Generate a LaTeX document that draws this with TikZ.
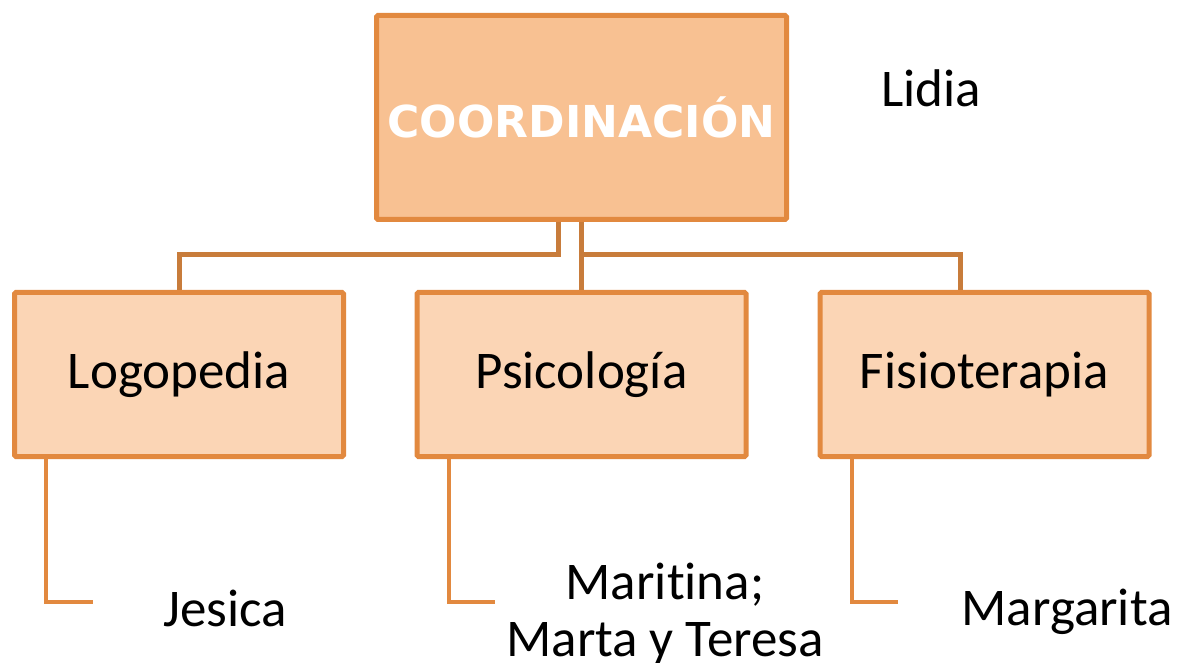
\documentclass[tikz,border=0pt]{standalone}
\usepackage{fontspec}
\setmainfont{Carlito}[Ligatures=NoCommon]
\newfontfamily\titlefont{DejaVu Sans}
\definecolor{topfill}{HTML}{F8C192}
\definecolor{subfill}{HTML}{FBD5B5}
\definecolor{edge}{HTML}{E2893F}
\definecolor{linkdark}{HTML}{C87C3B}
\usetikzlibrary{calc}
\tikzset{
  topbox/.style={draw=edge, fill=topfill, line width=5pt, rounded corners=1.5pt,
    minimum width=410pt, minimum height=204pt, inner sep=0pt},
  subbox/.style={draw=edge, fill=subfill, line width=5pt, rounded corners=1.5pt,
    minimum width=329pt, minimum height=164pt, inner sep=0pt,
    font={\fontsize{53}{57}\selectfont}},
  label/.style={inner sep=0pt, anchor=base, align=center, font={\fontsize{53}{57}\selectfont}},
  uplink/.style={draw=linkdark, line width=5pt},
  downlink/.style={draw=edge, line width=4pt},
}
\begin{document}
\begin{tikzpicture}[x=1pt,y=-1pt]
\useasboundingbox (0,0) rectangle (1179,663);
\node[topbox] (co) at (581.5,117.5) {};
\node[inner sep=0pt, text=white, font={\titlefont\bfseries\fontsize{44}{50}\selectfont}] (cot) at (581.5,117) {COORDINACIÓN};
\node[subbox] (lo) at (179,374.5) {Logopedia};
\node[subbox] (ps) at (581.5,374.5) {Psicología};
\node[subbox] (fi) at (984.5,374.5) {Fisioterapia};
\node[label] (li) at (931,107) {Lidia};
\node[label] (je) at (225,626) {Jesica};
\node[label] (ma) at (665,656) {Maritina;\\Marta y Teresa};
\node[label] (mg) at (1067,625) {Margarita};
% upper connectors
\draw[uplink] ([xshift=-23.5pt]co.south) -- ++(0,33) -| (lo.north);
\draw[uplink] (co.south) -- (ps.north);
\draw[uplink] ($(co.south)+(0,33)$) -| ([xshift=-24.5pt]fi.north);
% lower connectors
\coordinate (e1) at (93,602);
\coordinate (e2) at (495,602);
\coordinate (e3) at (898,602);
\draw[downlink] ([xshift=34pt]lo.south west) |- (e1);
\draw[downlink] ([xshift=34pt]ps.south west) |- (e2);
\draw[downlink] ([xshift=34pt]fi.south west) |- (e3);
\end{tikzpicture}
\end{document}
